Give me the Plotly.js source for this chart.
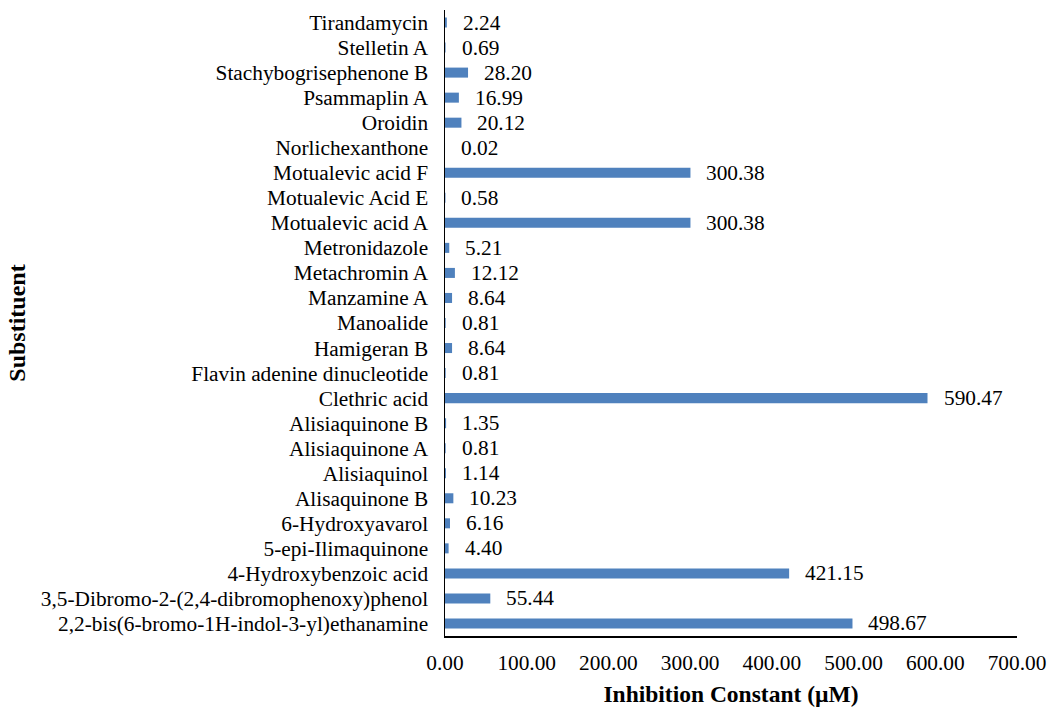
<!DOCTYPE html>
<html>
<head>
<meta charset="utf-8">
<script src="https://cdn.plot.ly/plotly-3.0.1.min.js"></script>
<style>html,body{margin:0;padding:0;background:#fff;}#chart{width:1051px;height:707px;}</style>
</head>
<body>
<div id="chart"></div>
<script>
const categories = [
  "2,2-bis(6-bromo-1H-indol-3-yl)ethanamine",
  "3,5-Dibromo-2-(2,4-dibromophenoxy)phenol",
  "4-Hydroxybenzoic acid",
  "5-epi-Ilimaquinone",
  "6-Hydroxyavarol",
  "Alisaquinone B",
  "Alisiaquinol",
  "Alisiaquinone A",
  "Alisiaquinone B",
  "Clethric acid",
  "Flavin adenine dinucleotide",
  "Hamigeran B",
  "Manoalide",
  "Manzamine A",
  "Metachromin A",
  "Metronidazole",
  "Motualevic acid A",
  "Motualevic Acid E",
  "Motualevic acid F",
  "Norlichexanthone",
  "Oroidin",
  "Psammaplin A",
  "Stachybogrisephenone B",
  "Stelletin A",
  "Tirandamycin"
];
const values = [498.67, 55.44, 421.15, 4.40, 6.16, 10.23, 1.14, 0.81, 1.35, 590.47,
  0.81, 8.64, 0.81, 8.64, 12.12, 5.21, 300.38, 0.58, 300.38, 0.02,
  20.12, 16.99, 28.20, 0.69, 2.24];
const xTickValues = [0, 100, 200, 300, 400, 500, 600, 700];

const FONT = 'Liberation Serif';
const FS = 21.33;

const trace = {
  type: 'bar',
  orientation: 'h',
  x: values,
  y: categories,
  marker: {color: '#4F81BD'},
  hoverinfo: 'x+y'
};

const annotations = values.map((v, i) => ({
  x: v, y: categories[i], xref: 'x', yref: 'y',
  text: v.toFixed(2), showarrow: false,
  xanchor: 'left', yanchor: 'middle', xshift: 14,
  font: {family: FONT, size: FS, color: '#000'}
}));

const layout = {
  width: 1051, height: 707,
  margin: {l: 445, r: 34, t: 10, b: 71},
  paper_bgcolor: '#fff', plot_bgcolor: '#fff',
  bargap: 0.6,
  showlegend: false,
  font: {family: FONT, size: FS, color: '#000'},
  xaxis: {
    range: [0, 700], tickvals: xTickValues, tickformat: '.2f',
    showgrid: false, zeroline: false,
    showline: true, linecolor: '#000', linewidth: 1.5,
    ticks: '', ticklabelstandoff: 7,
    tickfont: {family: FONT, size: FS, color: '#000'},
    title: {text: 'Inhibition Constant (µM)', font: {family: FONT, size: 23.5, color: '#000', weight: 'bold'}, standoff: 25}
  },
  yaxis: {
    type: 'category', range: [-0.5, 24.5],
    tickmode: 'array', tickvals: categories, ticktext: categories,
    showgrid: false, zeroline: false,
    showline: true, linecolor: '#000', linewidth: 1.5,
    ticks: '', ticklabelstandoff: 11,
    tickfont: {family: FONT, size: FS, color: '#000'},
    automargin: false,
    title: {text: 'Substituent', font: {family: FONT, size: 24, color: '#000', weight: 'bold'}, standoff: 8}
  },
  annotations: annotations
};

Plotly.newPlot('chart', [trace], layout, {displayModeBar: false, staticPlot: true});
</script>
</body>
</html>
